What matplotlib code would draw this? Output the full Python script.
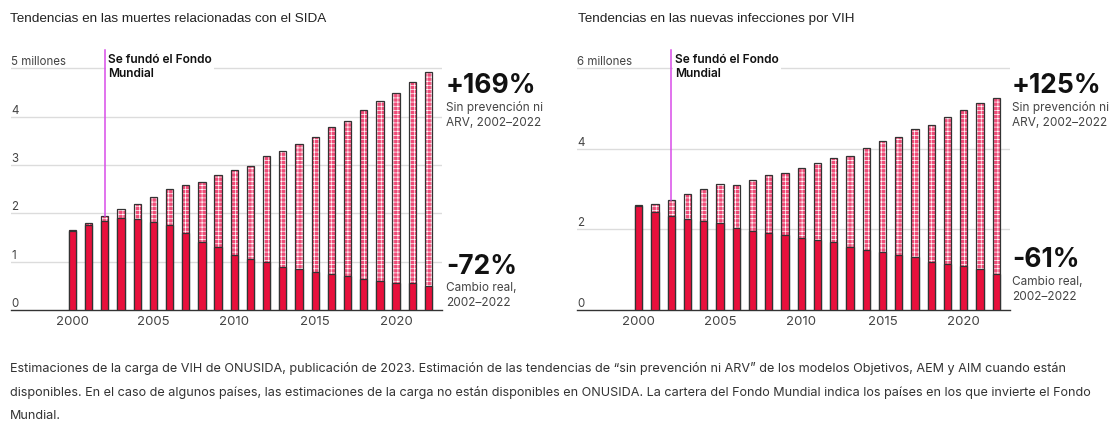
import matplotlib
matplotlib.use("Agg")
import matplotlib.pyplot as plt
from matplotlib.transforms import blended_transform_factory

# data (millions)
years = list(range(2000, 2023))
deaths_total = [1.65, 1.79, 1.94, 2.10, 2.19, 2.34, 2.50, 2.59, 2.64, 2.79, 2.89, 2.99,
                3.18, 3.30, 3.44, 3.58, 3.79, 3.92, 4.13, 4.33, 4.49, 4.72, 4.93]
deaths_real = [1.64, 1.75, 1.84, 1.90, 1.89, 1.83, 1.75, 1.59, 1.41, 1.30, 1.13, 1.05,
               0.99, 0.90, 0.84, 0.78, 0.74, 0.70, 0.65, 0.60, 0.55, 0.55, 0.50]
inf_total = [2.60, 2.64, 2.74, 2.87, 3.00, 3.12, 3.11, 3.22, 3.34, 3.39, 3.53, 3.64,
             3.77, 3.82, 4.01, 4.19, 4.30, 4.49, 4.60, 4.78, 4.97, 5.14, 5.26]
inf_real = [2.57, 2.43, 2.32, 2.26, 2.21, 2.16, 2.04, 1.96, 1.91, 1.85, 1.79, 1.73,
            1.69, 1.56, 1.48, 1.43, 1.37, 1.31, 1.19, 1.13, 1.08, 1.01, 0.89]

x_ticks = [2000, 2005, 2010, 2015, 2020]
deaths_yticks = [0, 1, 2, 3, 4, 5]
deaths_ylabels = ["0", "1", "2", "3", "4", "5 millones"]
inf_yticks = [0, 2, 4, 6]
inf_ylabels = ["0", "2", "4", "6 millones"]
founded_year = 2002

RED = "#e8103c"
PINK = "#f04c78"
EDGE = "#333333"
GRID = "#dcdcdc"
VLINE = "#d84ce8"
TXT = "#444444"
FONT = "Inter"

plt.rcParams["hatch.linewidth"] = 0.5
plt.rcParams["font.family"] = FONT

W, H = 1111, 423
fig = plt.figure(figsize=(W / 100, H / 100), dpi=100)


def px(x0, y0, x1, y1):
    # pixel box -> figure fraction rect
    return [x0 / W, 1 - y1 / H, (x1 - x0) / W, (y1 - y0) / H]


def draw_panel(ax, total, real, yticks, ylabels, ytop):
    ax.set_xlim(1996.2, 2022.84)
    ax.set_ylim(0, ytop)
    for s in ["top", "right", "left"]:
        ax.spines[s].set_visible(False)
    ax.spines["bottom"].set_color(EDGE)
    ax.spines["bottom"].set_linewidth(1)
    ax.set_yticks([])
    ax.set_xticks(x_ticks)
    ax.set_xticklabels([str(t) for t in x_ticks], fontsize=9.5, color=TXT)
    ax.tick_params(axis="x", length=0, pad=4)

    for t in yticks[1:]:
        ax.axhline(t, color=GRID, lw=1, zorder=0)
    trans = blended_transform_factory(ax.transAxes, ax.transData)
    for t, lab in zip(yticks, ylabels):
        ax.text(0.0, t, lab, transform=trans, fontsize=8.3, color=TXT,
                ha="left", va="bottom")

    extra = [tt - r for tt, r in zip(total, real)]
    ax.bar(years, extra, bottom=real, width=0.45, color=PINK, edgecolor="white",
           hatch="++++", linewidth=0, zorder=2)
    ax.bar(years, total, width=0.45, color="none", edgecolor=EDGE, linewidth=0.9, zorder=3)
    ax.bar(years, real, width=0.45, color=RED, edgecolor=EDGE, linewidth=0.9, zorder=4)

    top = total[years.index(founded_year)]
    ax.plot([founded_year, founded_year], [top, ytop], color=VLINE, lw=1.1, zorder=6,
            clip_on=False)
    ax.text(founded_year + 0.22, ytop * 0.985, "Se fundó el Fondo\nMundial", fontsize=8.6,
            fontweight="semibold", color="#111111", ha="left", va="top", linespacing=1.25,
            zorder=5, bbox=dict(facecolor="white", edgecolor="none", pad=1.5))


ax1 = fig.add_axes(px(11, 50, 442, 310))
draw_panel(ax1, deaths_total, deaths_real, deaths_yticks, deaths_ylabels, 5.38)
ax2 = fig.add_axes(px(577, 50, 1010, 310))
draw_panel(ax2, inf_total, inf_real, inf_yticks, inf_ylabels, 6.45)

# titles
fig.text(10 / W, 1 - 19 / H, "Tendencias en las muertes relacionadas con el SIDA",
         fontsize=9.7, family="Liberation Sans", color="#222222", va="center")
fig.text(578 / W, 1 - 19 / H, "Tendencias en las nuevas infecciones por VIH",
         fontsize=9.7, family="Liberation Sans", color="#222222", va="center")


def side_note(x, y_big, big, y_small, small):
    fig.text(x / W, 1 - y_big / H, big, fontsize=19, fontweight="bold", color="#111111",
             va="center", ha="left")
    fig.text(x / W, 1 - y_small / H, small, fontsize=8.5, color=TXT, va="top", ha="left",
             linespacing=1.3)


side_note(446, 86, "+169%", 101, "Sin prevención ni\nARV, 2002–2022")
side_note(446, 267, "-72%", 282, "Cambio real,\n2002–2022")
side_note(1012, 86, "+125%", 101, "Sin prevención ni\nARV, 2002–2022")
side_note(1012, 260, "-61%", 276, "Cambio real,\n2002–2022")

caption = [
    "Estimaciones de la carga de VIH de ONUSIDA, publicación de 2023. Estimación de las tendencias "
    "de “sin prevención ni ARV” de los modelos Objetivos, AEM y AIM cuando están",
    "disponibles. En el caso de algunos países, las estimaciones de la carga no están disponibles "
    "en ONUSIDA. La cartera del Fondo Mundial indica los países en los que invierte el Fondo",
    "Mundial.",
]
for i, line in enumerate(caption):
    fig.text(10 / W, 1 - (368 + 24 * i) / H, line, fontsize=9.1, color="#333333",
             va="center", ha="left")

fig.savefig("out.png", dpi=100)
